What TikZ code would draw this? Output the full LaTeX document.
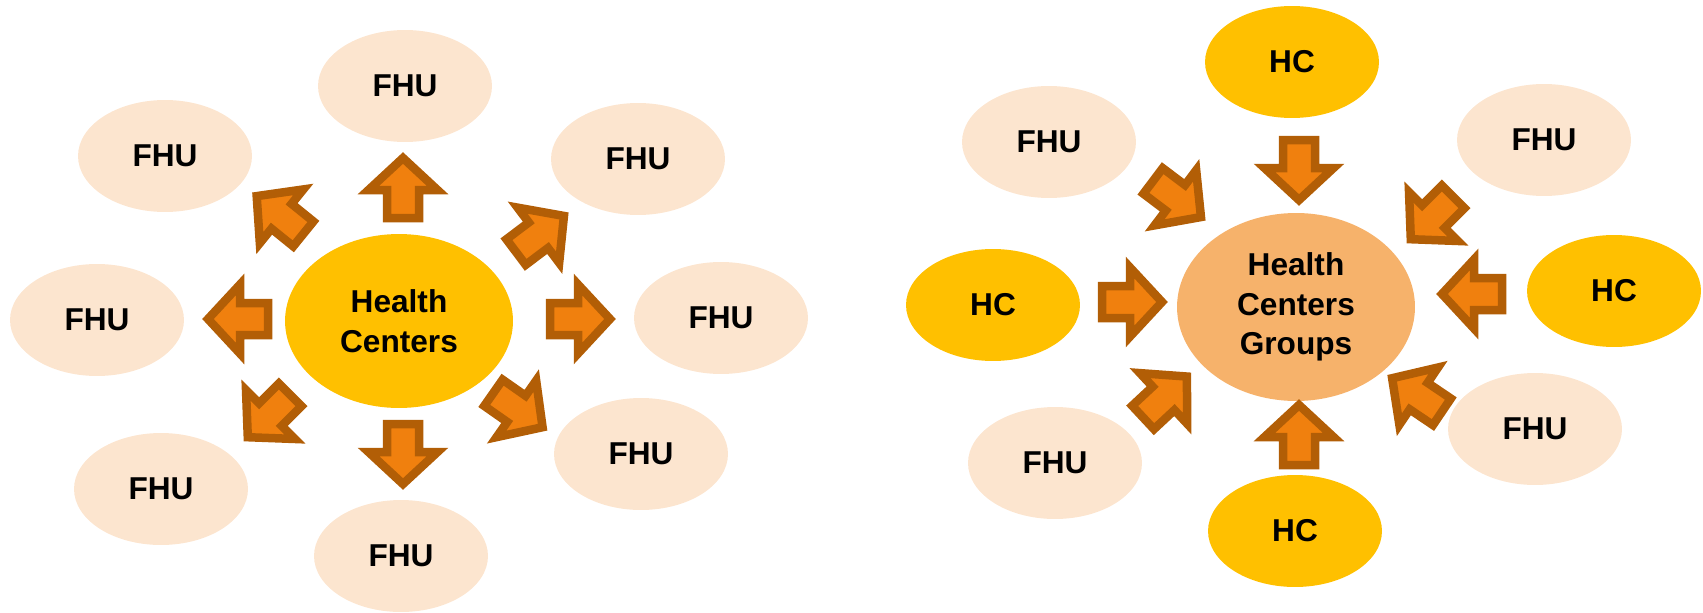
\documentclass[tikz,border=0pt]{standalone}
\usepackage{fontspec}
\setmainfont{Liberation Sans}
\usetikzlibrary{shapes.geometric}
\definecolor{fhuc}{RGB}{252,229,207}
\definecolor{hcc}{RGB}{255,192,0}
\definecolor{grpc}{RGB}{246,178,107}
\definecolor{arrfill}{RGB}{240,128,14}
\definecolor{arrline}{RGB}{178,94,6}
\tikzset{
  bub/.style={ellipse, inner sep=0pt, font=\fontsize{18}{22.6}\selectfont\bfseries, align=center, text=black},
  fhu/.style={bub, fill=fhuc, minimum width=3.48cm, minimum height=2.24cm},
  hc/.style={bub, fill=hcc, minimum width=3.48cm, minimum height=2.24cm},
  bigc/.style={bub, fill=hcc, minimum width=4.56cm, minimum height=3.48cm},
  grpc/.style={bub, fill=grpc, minimum width=4.76cm, minimum height=3.76cm},
  arrowstyle/.style={fill=arrfill, draw=arrline, line width=0.17cm, line join=miter},
  blockarrow/.pic={\draw[arrowstyle] (-30,-16) -- (-2,-16) -- (-2,-34.5) -- (30,0) -- (-2,34.5) -- (-2,16) -- (-30,16) -- cycle;}
}
\begin{document}
\begin{tikzpicture}[x=0.02cm,y=-0.02cm]
\useasboundingbox (0,0) rectangle (1703,612);
% left group
\node[bigc] (hcL) at (399,321) {Health\\Centers};
\node[fhu] (f1) at (405,86) {FHU};
\node[fhu] (f2) at (165,156) {FHU};
\node[fhu] (f3) at (638,159) {FHU};
\node[fhu] (f4) at (97,320) {FHU};
\node[fhu] (f5) at (721,318) {FHU};
\node[fhu] (f6) at (161,489) {FHU};
\node[fhu] (f7) at (641,454) {FHU};
\node[fhu] (f8) at (401,556) {FHU};
\pic[rotate=90] (a1) at (403,188) {blockarrow};
\pic[rotate=141] (a2) at (280,215) {blockarrow};
\pic[rotate=37] (a3) at (540,234) {blockarrow};
\pic[rotate=0] (a4) at (580,319) {blockarrow};
\pic[rotate=180] (a5) at (238,319) {blockarrow};
\pic[rotate=225] (a6) at (269,416) {blockarrow};
\pic[rotate=270] (a7) at (403,454) {blockarrow};
\pic[rotate=-35] (a8) at (518,410) {blockarrow};
% right group
\node[grpc] (grp) at (1296,307) {Health\\Centers\\Groups};
\node[hc] (h1) at (1292,62) {HC};
\node[fhu] (g1) at (1049,142) {FHU};
\node[fhu] (g2) at (1544,140) {FHU};
\node[hc] (h2) at (993,305) {HC};
\node[hc] (h3) at (1614,291) {HC};
\node[fhu] (g3) at (1055,463) {FHU};
\node[fhu] (g4) at (1535,429) {FHU};
\node[hc] (h4) at (1295,531) {HC};
\pic[rotate=270] (b1) at (1299,170) {blockarrow};
\pic[rotate=-37] (b2) at (1177,199) {blockarrow};
\pic[rotate=225] (b3) at (1432,218) {blockarrow};
\pic[rotate=0] (b4) at (1132,302) {blockarrow};
\pic[rotate=180] (b5) at (1472,294) {blockarrow};
\pic[rotate=43] (b6) at (1165,397) {blockarrow};
\pic[rotate=146] (b7) at (1417,395) {blockarrow};
\pic[rotate=90] (b8) at (1299,435) {blockarrow};
\end{tikzpicture}
\end{document}
